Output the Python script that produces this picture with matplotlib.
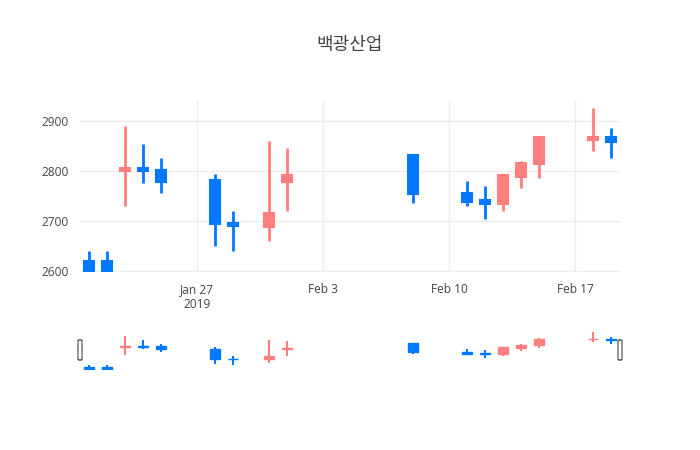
import numpy as np
import pandas as pd
import matplotlib
matplotlib.use("Agg")
import matplotlib.pyplot as plt
import matplotlib.dates as mdates
from matplotlib.patches import FancyBboxPatch

title = "백광산업"

dates = [
    "2019-01-21", "2019-01-22", "2019-01-23", "2019-01-24", "2019-01-25",
    "2019-01-28", "2019-01-29", "2019-01-31", "2019-02-01", "2019-02-08",
    "2019-02-11", "2019-02-12", "2019-02-13", "2019-02-14", "2019-02-15",
    "2019-02-18", "2019-02-19",
]
opens = [2620, 2620, 2800, 2807, 2803, 2783, 2696, 2689, 2779, 2833,
         2757, 2742, 2734, 2789, 2814, 2863, 2868]
highs = [2640, 2640, 2890, 2855, 2826, 2795, 2720, 2860, 2846, 2833,
         2781, 2771, 2793, 2821, 2870, 2926, 2886]
lows = [2600, 2600, 2730, 2776, 2756, 2650, 2640, 2660, 2721, 2736,
        2730, 2705, 2721, 2766, 2786, 2841, 2826]
closes = [2600, 2600, 2807, 2800, 2779, 2694, 2690, 2717, 2792, 2754,
          2738, 2734, 2793, 2817, 2868, 2868, 2859]

y_ticks = [2600, 2700, 2800, 2900]
x_ticks = ["2019-01-27", "2019-02-03", "2019-02-10", "2019-02-17"]
x_tick_labels = ["Jan 27\n2019", "Feb 3", "Feb 10", "Feb 17"]

UP = "#ff7f7f"
DOWN = "#0079ff"
TXT = "#444444"
GRID = "#eeeeee"

x = mdates.date2num(pd.to_datetime(dates))
xmin = mdates.date2num(pd.Timestamp("2019-01-20 12:00"))
xmax = mdates.date2num(pd.Timestamp("2019-02-19 12:00"))
ymin, ymax = 2598, 2943


def draw_candles(ax, body_w, wick_lw, edge_lw):
    for xi, o, h, l, c in zip(x, opens, highs, lows, closes):
        col = UP if c >= o else DOWN
        ax.vlines(xi, l, h, color=col, lw=wick_lw, zorder=2)
        ax.bar(xi, abs(c - o), bottom=min(o, c), width=body_w, color=col,
               edgecolor=col, lw=edge_lw, zorder=3)


fig = plt.figure(figsize=(7, 4.5), dpi=100)

ax = fig.add_axes([80 / 700, 1 - 272 / 450, 540 / 700, 172 / 450])
draw_candles(ax, 0.55, 2, 1.5)
ax.set_xlim(xmin, xmax)
ax.set_ylim(ymin, ymax)
ax.set_yticks(y_ticks)
ax.set_xticks(mdates.date2num(pd.to_datetime(x_ticks)))
ax.set_xticklabels(x_tick_labels)
ax.grid(True, color=GRID, lw=1, zorder=0)
ax.set_axisbelow(True)
for s in ax.spines.values():
    s.set_visible(False)
ax.tick_params(length=0, colors=TXT, labelsize=8.6, pad=8)
for lab in ax.get_xticklabels() + ax.get_yticklabels():
    lab.set_family("Open Sans")
    lab.set_color(TXT)

# range slider
sl = fig.add_axes([80 / 700, 1 - 370 / 450, 540 / 700, 40 / 450])
draw_candles(sl, 0.55, 1.5, 1)
sl.set_xlim(xmin, xmax)
sl.set_ylim(ymin, ymax)
sl.axis("off")
for hx in (0, 1):
    sl.add_patch(FancyBboxPatch((hx - 2 / 540, 0.25), 4 / 540, 0.5,
                                boxstyle="round,pad=0,rounding_size=0.004",
                                transform=sl.transAxes, clip_on=False,
                                facecolor="white", edgecolor="#444444",
                                lw=0.8, zorder=5))

fig.text(0.5, 1 - 45 / 450, title, ha="center", va="center",
         fontsize=13, color=TXT, family=["Noto Sans CJK KR", "DejaVu Sans"])

fig.savefig("out.png", dpi=100, facecolor="white")
